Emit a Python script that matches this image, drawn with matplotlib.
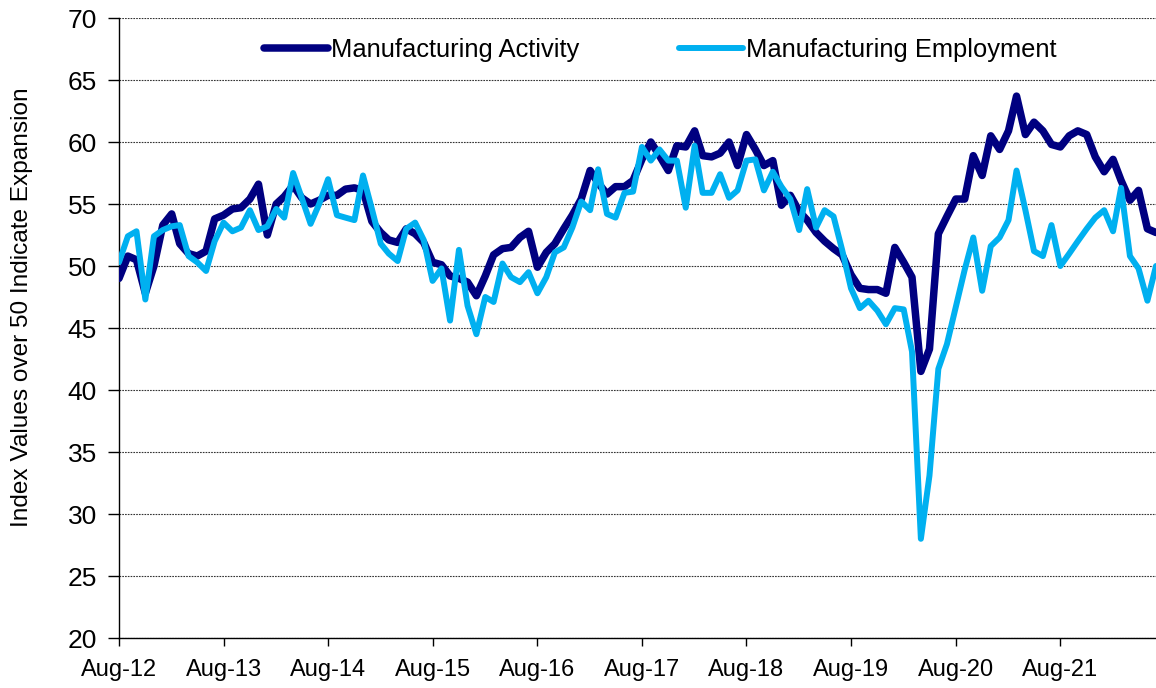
import numpy as np
import pandas as pd
import matplotlib
matplotlib.use("Agg")
from matplotlib import pyplot as plt
import matplotlib.dates as mdates

plt.rcParams["font.family"] = ["Liberation Sans", "DejaVu Sans"]

# monthly index values, Aug-12 .. Jul-22
months = pd.date_range("2012-08-01", periods=120, freq="MS")

activity = [
    49.0, 50.8, 50.5, 47.8, 50.0, 53.3, 54.2, 51.8, 51.0, 50.8, 51.2, 53.8,
    54.1, 54.6, 54.7, 55.4, 56.6, 52.5, 55.0, 55.6, 56.5, 55.5, 55.0, 55.3,
    55.7, 55.7, 56.2, 56.3, 56.1, 53.6, 52.7, 52.1, 51.9, 53.0, 52.6, 51.9,
    50.3, 50.1, 49.2, 49.0, 48.7, 47.6, 49.2, 50.9, 51.4, 51.5, 52.3, 52.8,
    49.9, 51.1, 51.8, 53.0, 54.1, 55.4, 57.7, 56.7, 55.8, 56.4, 56.4, 56.9,
    58.6, 60.0, 58.9, 57.7, 59.7, 59.6, 60.9, 58.9, 58.8, 59.1, 60.0, 58.1,
    60.6, 59.4, 58.1, 58.5, 54.9, 55.7, 54.4, 53.7, 52.7, 52.0, 51.4, 50.9,
    49.3, 48.2, 48.1, 48.1, 47.8, 51.5, 50.3, 49.1, 41.5, 43.3, 52.6, 54.0,
    55.4, 55.4, 58.9, 57.3, 60.5, 59.4, 60.9, 63.7, 60.6, 61.6, 60.9, 59.8,
    59.6, 60.5, 60.9, 60.6, 58.8, 57.6, 58.6, 56.9, 55.3, 56.1, 53.0, 52.7,
]

employment = [
    50.3, 52.4, 52.8, 47.3, 52.4, 52.9, 53.2, 53.3, 50.8, 50.3, 49.6, 52.0,
    53.5, 52.8, 53.1, 54.5, 52.9, 53.2, 54.6, 53.9, 57.5, 55.5, 53.4, 55.0,
    57.0, 54.1, 53.9, 53.7, 57.3, 54.6, 51.8, 51.0, 50.4, 53.0, 53.5, 52.1,
    48.8, 49.8, 45.6, 51.3, 46.8, 44.5, 47.5, 47.1, 50.2, 49.1, 48.7, 49.5,
    47.8, 49.1, 51.1, 51.5, 53.1, 55.2, 54.5, 57.8, 54.2, 53.9, 55.9, 56.0,
    59.6, 58.5, 59.4, 58.5, 58.5, 54.7, 59.7, 55.9, 55.9, 57.4, 55.5, 56.1,
    58.5, 58.6, 56.1, 57.6, 56.4, 55.4, 52.9, 56.2, 53.1, 54.5, 54.0, 51.3,
    48.2, 46.6, 47.2, 46.4, 45.3, 46.6, 46.5, 43.1, 28.0, 33.1, 41.7, 43.7,
    46.7, 49.7, 52.3, 48.0, 51.6, 52.3, 53.7, 57.7, 54.5, 51.2, 50.8, 53.3,
    50.0, 51.0, 52.0, 53.0, 53.9, 54.5, 52.8, 56.3, 50.8, 49.8, 47.2, 50.0,
]

fig = plt.figure(figsize=(11.56, 6.88), dpi=100)
ax = fig.add_axes([119 / 1156, 50 / 688, 1037 / 1156, 620 / 688])

ax.plot(months, activity, color="#000080", lw=5.4, solid_joinstyle="round",
        solid_capstyle="round", label="Manufacturing Activity", zorder=3)
ax.plot(months, employment, color="#00B0F0", lw=4.3, solid_joinstyle="round",
        solid_capstyle="round", label="Manufacturing Employment", zorder=4)

ax.set_xlim(months[0], months[-1])
ax.set_ylim(20, 70)
ax.set_yticks(np.arange(20, 71, 5))
ax.set_xticks(months[::12])
ax.xaxis.set_major_formatter(mdates.DateFormatter("%b-%y"))

ax.grid(axis="y", color="#333333", linestyle=(0, (1.5, 1.0)), lw=0.8)
ax.set_axisbelow(True)
for side in ("top", "right"):
    ax.spines[side].set_visible(False)
for side in ("left", "bottom"):
    ax.spines[side].set_color("black")
    ax.spines[side].set_linewidth(1.0)

ax.tick_params(axis="y", labelsize=19, length=8, width=1, pad=8)
ax.tick_params(axis="x", labelsize=17, length=6, width=1, pad=9)
ax.set_ylabel("Index Values over 50 Indicate Expansion", fontsize=17.6)
ax.yaxis.set_label_coords(-86 / 1037, 0.534)

ax.legend(loc="center", bbox_to_anchor=(0.522, 0.948), ncol=2, frameon=False,
          fontsize=18.4, handlelength=2.5, handletextpad=0.12, columnspacing=3.9,
          borderpad=0, borderaxespad=0)

fig.savefig("out.png", dpi=100, facecolor="white")
